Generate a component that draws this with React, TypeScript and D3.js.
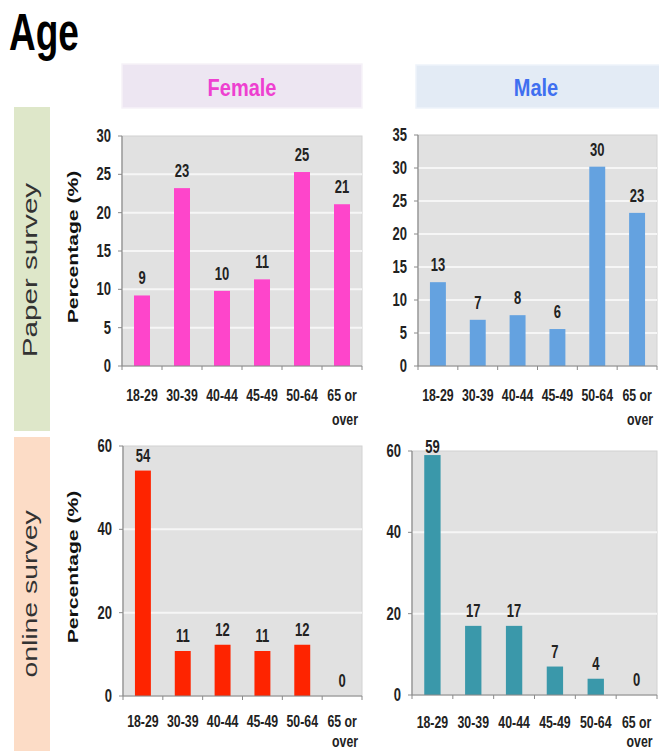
import React from "react";
import * as d3 from "d3";

const categories = ["18-29", "30-39", "40-44", "45-49", "50-64", "65 or over"];
const femalePaper = [9.2, 23.2, 9.8, 11.3, 25.3, 21.1];
const malePaper = [12.7, 7.0, 7.7, 5.6, 30.2, 23.2];
const femaleOnline = [54.1, 10.8, 12.3, 10.8, 12.3, 0];
const maleOnline = [59, 17, 17, 7, 4, 0];
const paperFemaleTicks = [0, 5, 10, 15, 20, 25, 30];
const paperMaleTicks = [0, 5, 10, 15, 20, 25, 30, 35];
const onlineTicks = [0, 20, 40, 60];

const SANS = "'Liberation Sans', Arial, sans-serif";

type STProps = {
  x: number; y: number; size: number; sy?: number; anchor?: string; weight?: string;
  fill?: string; rotate?: boolean; children: React.ReactNode;
};

// Text drawn with a vertical stretch, as in the reference image
function ST({ x, y, size, sy = 1.38, anchor = "middle", weight = "bold", fill = "#222", rotate = false, children }: STProps) {
  const tr = rotate
    ? `translate(${x},${y}) rotate(-90) scale(${sy},1)`
    : `translate(${x},${y}) scale(1,${sy})`;
  return (
    <text transform={tr} textAnchor={anchor} fontFamily={SANS} fontWeight={weight} fontSize={size} fill={fill}>
      {children}
    </text>
  );
}

type PanelProps = {
  x0: number; x1: number; y0: number; y1: number;
  values: number[]; ticks: number[]; color: string;
  line1: number; line2: number; gap: number;
  yLabel?: { x: number; y: number } | null;
};

function Panel({ x0, x1, y0, y1, values, ticks, color, line1, line2, gap, yLabel }: PanelProps) {
  const max = ticks[ticks.length - 1];
  const x = d3.scaleBand<string>().domain(categories).range([x0, x1]).paddingInner(0.6).paddingOuter(0.3);
  const y = d3.scaleLinear().domain([0, max]).range([y1, y0]);
  const step = (x1 - x0) / categories.length;
  return (
    <g>
      <rect x={x0} y={y0} width={x1 - x0} height={y1 - y0} fill="#e1e1e1" stroke="#d2d2d2" strokeWidth={1} />
      {ticks.filter((t) => t > 0 && t < max).map((t) => (
        <line key={"g" + t} x1={x0} x2={x1} y1={y(t)} y2={y(t)} stroke="#f6f6f6" strokeWidth={2} />
      ))}
      {values.map((v, i) => (
        <rect key={"b" + i} x={x(categories[i])!} y={y(v)} width={x.bandwidth()} height={y1 - y(v)} fill={color} />
      ))}
      {values.map((v, i) => (
        <ST key={"v" + i} x={x(categories[i])! + x.bandwidth() / 2} y={Math.max(y(v) - gap, y0 + 2)} size={13}>
          {Math.round(v)}
        </ST>
      ))}
      <line x1={x0} x2={x0} y1={y0} y2={y1} stroke="#8a8a8a" strokeWidth={1.2} />
      <line x1={x0} x2={x1} y1={y1} y2={y1} stroke="#8a8a8a" strokeWidth={1.2} />
      {ticks.map((t) => (
        <g key={"t" + t}>
          <line x1={x0 - 4} x2={x0} y1={y(t)} y2={y(t)} stroke="#8a8a8a" />
          <ST x={x0 - 11} y={y(t) + 6} size={13} anchor="end">{t}</ST>
        </g>
      ))}
      {d3.range(categories.length + 1).map((i) => (
        <line key={"xt" + i} x1={x0 + i * step} x2={x0 + i * step} y1={y1} y2={y1 + 4} stroke="#8a8a8a" />
      ))}
      {categories.map((c, i) => {
        const cx = x(c)! + x.bandwidth() / 2;
        const parts = c === "65 or over" ? ["65 or", "over"] : [c];
        return (
          <g key={"c" + i}>
            <ST x={cx} y={y1 + line1} size={12.3}>{parts[0]}</ST>
            {parts[1] && <ST x={cx + 3} y={y1 + line2} size={12.3}>{parts[1]}</ST>}
          </g>
        );
      })}
      {yLabel && (
        <ST x={yLabel.x} y={yLabel.y} size={15} sy={1.41} rotate fill="#111">Percentage (%)</ST>
      )}
    </g>
  );
}

export default function App() {
  return (
    <svg width={659} height={751} style={{ position: "absolute", left: 0, top: 0, background: "#fff" }}>
      <ST x={9} y={50} size={37} sy={1.38} anchor="start" fill="#000">Age</ST>

      <rect x={122} y={64} width={240} height={44} fill="#ede6f2" stroke="#f6f2f8" strokeWidth={1.5} />
      <ST x={242} y={96} size={20} sy={1.2} fill="#ee40d0">Female</ST>
      <rect x={416} y={65} width={245} height={43} fill="#e3ebf5" stroke="#eef3fa" strokeWidth={1.5} />
      <ST x={536} y={96} size={20} sy={1.2} fill="#3f6ff0">Male</ST>

      <rect x={14} y={107} width={36} height={324} fill="#dee7c9" />
      <ST x={37} y={270} size={20} sy={1.48} rotate weight="normal" fill="#333">Paper survey</ST>
      <rect x={14} y={437} width={36} height={314} fill="#fcdcc6" />
      <ST x={37} y={594} size={20} sy={1.42} rotate weight="normal" fill="#333">online survey</ST>

      <Panel x0={122} x1={362} y0={136} y1={366} values={femalePaper} ticks={paperFemaleTicks} color="#fe45cb"
        line1={35} line2={59} gap={11} yLabel={{ x: 78, y: 247 }} />
      <Panel x0={418} x1={657} y0={135} y1={366} values={malePaper} ticks={paperMaleTicks} color="#64a2e0"
        line1={35} line2={59} gap={11} yLabel={null} />
      <Panel x0={123} x1={362} y0={446} y1={696} values={femaleOnline} ticks={onlineTicks} color="#fe2400"
        line1={31} line2={51} gap={9} yLabel={{ x: 78, y: 567 }} />
      <Panel x0={412} x1={657} y0={451} y1={695} values={maleOnline} ticks={onlineTicks} color="#3a98aa"
        line1={33} line2={52} gap={9} yLabel={null} />
    </svg>
  );
}
